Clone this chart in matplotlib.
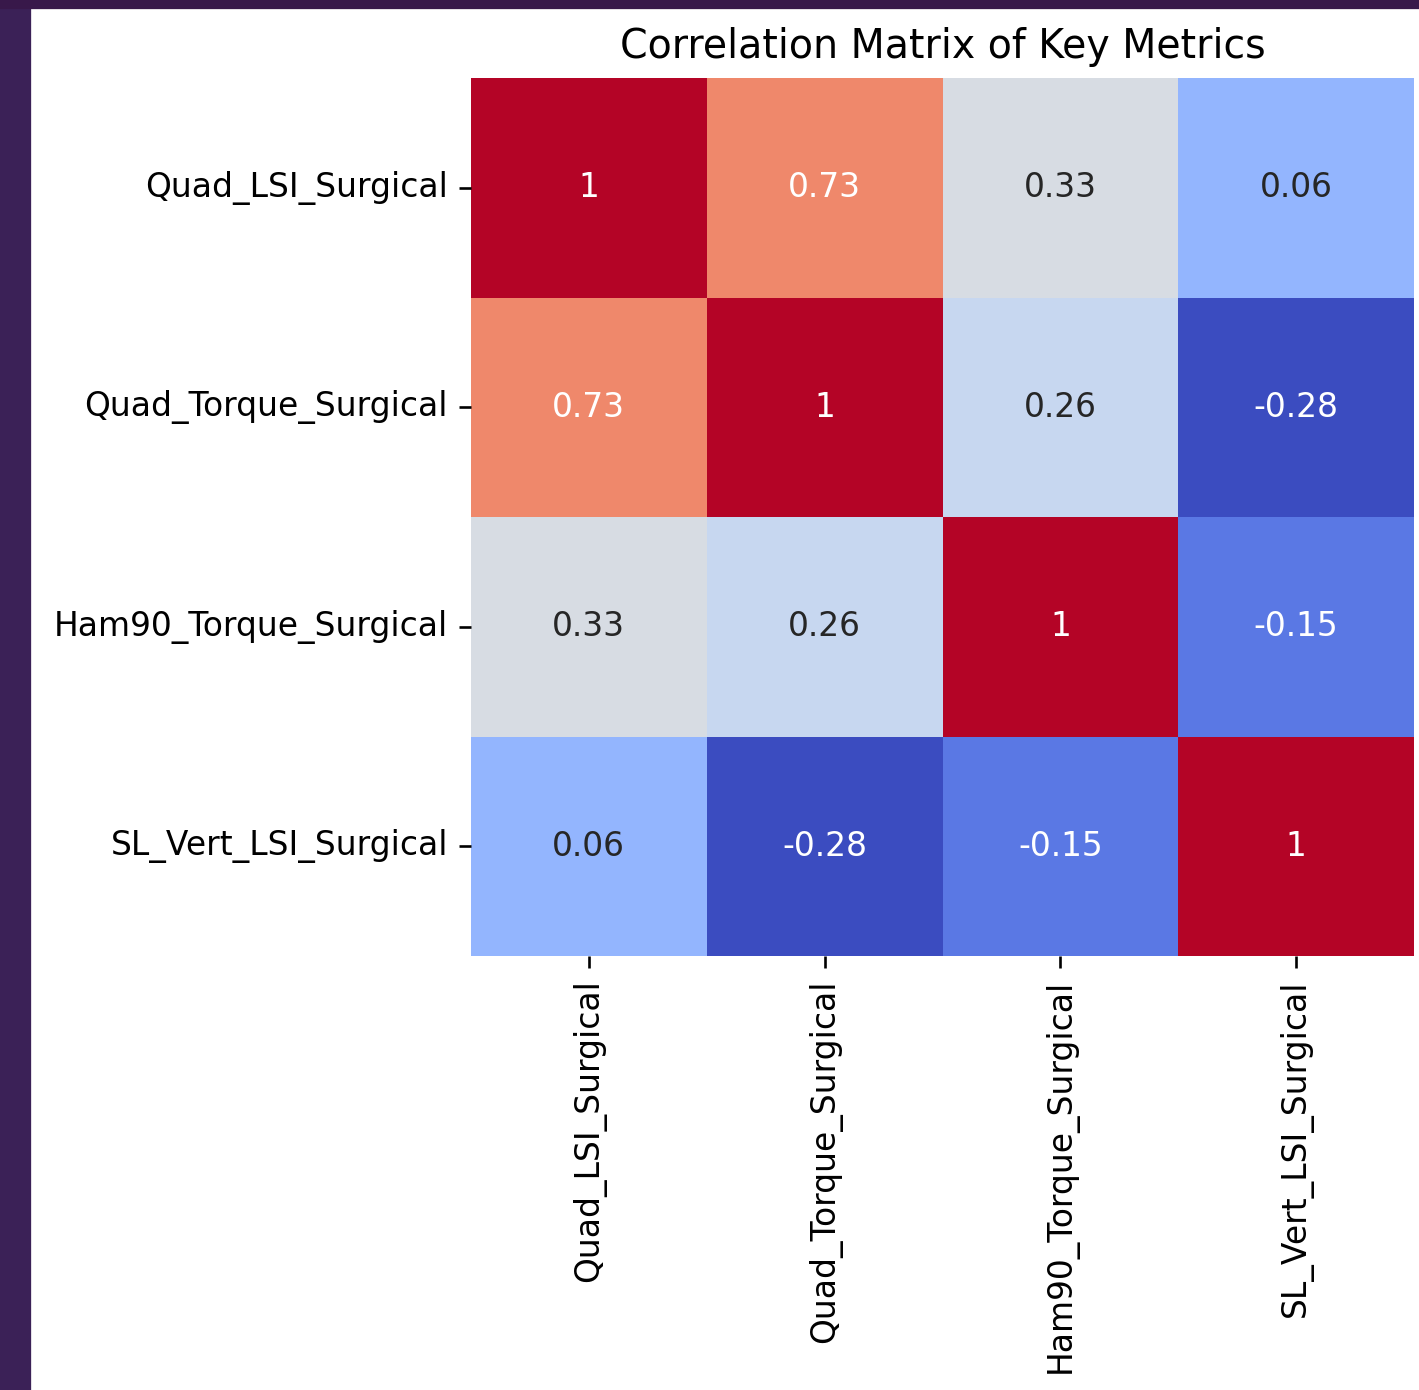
import matplotlib
matplotlib.use('Agg')
import matplotlib.pyplot as plt
import numpy as np
import seaborn as sns
from matplotlib.patches import Rectangle

# dados
metricas = ['Quad_LSI_Surgical', 'Quad_Torque_Surgical',
            'Ham90_Torque_Surgical', 'SL_Vert_LSI_Surgical']
linha_quad_lsi = [1, 0.73, 0.33, 0.06]
linha_quad_torque = [0.73, 1, 0.26, -0.28]
linha_ham90 = [0.33, 0.26, 1, -0.15]
linha_sl_vert = [0.06, -0.28, -0.15, 1]

corr = np.array([linha_quad_lsi, linha_quad_torque, linha_ham90, linha_sl_vert])

DPI = 237
fig = plt.figure(figsize=(1419 / DPI, 1390 / DPI), dpi=DPI)

# moldura roxa do print
fig.patches.append(Rectangle((0, 0), 29 / 1419, 1, transform=fig.transFigure,
                             color='#3b2157', zorder=0))
fig.patches.append(Rectangle((0, 1 - 7 / 1390), 1, 7 / 1390, transform=fig.transFigure,
                             color='#38184a', zorder=0))

ax = fig.add_axes([471 / 1419, 1 - 956 / 1390, (1414 - 471) / 1419, (956 - 78) / 1390])
sns.heatmap(corr, annot=True, cmap='coolwarm', cbar=False,
            xticklabels=metricas, yticklabels=metricas, ax=ax)
ax.set_title('Correlation Matrix of Key Metrics')

fig.savefig('out.png', dpi=DPI)
